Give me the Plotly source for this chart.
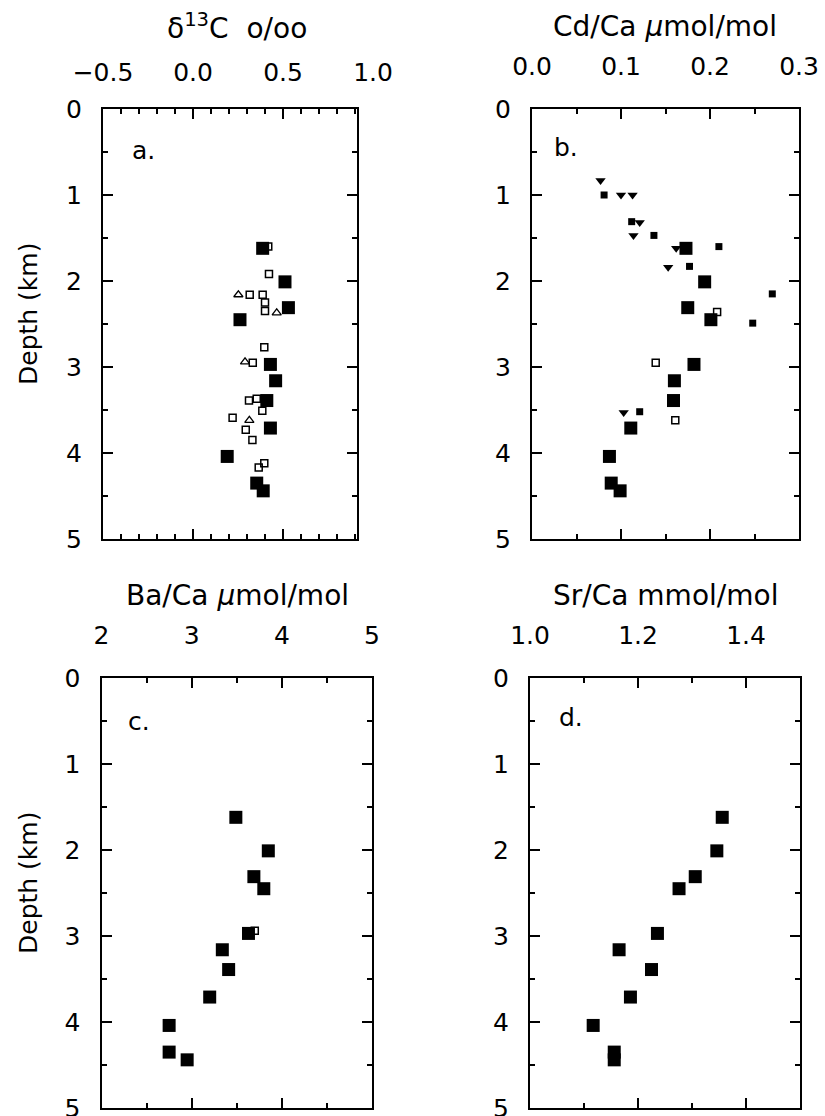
import plotly.graph_objects as go

# ---------------- data ----------------
depth_main = [1.62, 2.01, 2.31, 2.45, 2.97, 3.16, 3.39, 3.71, 4.04, 4.35, 4.44]

# panel a: delta13C
d13c_main = [0.387, 0.511, 0.530, 0.261, 0.430, 0.459, 0.410, 0.430, 0.190, 0.354, 0.390]
d13c_sq_depth = [1.60, 1.92, 2.16, 2.16, 2.25, 2.35, 2.77, 2.95, 3.37, 3.39, 3.51, 3.59, 3.73, 3.85, 4.12, 4.17]
d13c_sq = [0.418, 0.422, 0.315, 0.387, 0.400, 0.400, 0.396, 0.332, 0.354, 0.311, 0.385, 0.220, 0.293, 0.330, 0.396, 0.365]
d13c_tri_depth = [2.16, 2.37, 2.94, 3.62]
d13c_tri = [0.252, 0.465, 0.289, 0.313]

# panel b: Cd/Ca
cdca_main = [0.173, 0.194, 0.175, 0.201, 0.182, 0.160, 0.159, 0.111, 0.087, 0.089, 0.099]
cdca_dn_depth = [0.83, 1.00, 1.00, 1.32, 1.47, 1.62, 1.84, 3.53]
cdca_dn = [0.077, 0.100, 0.113, 0.121, 0.114, 0.162, 0.153, 0.103]
cdca_sm_depth = [1.00, 1.31, 1.47, 1.60, 1.83, 2.15, 2.49, 3.52]
cdca_sm = [0.081, 0.112, 0.137, 0.210, 0.177, 0.270, 0.248, 0.121]
cdca_op_depth = [2.36, 2.95, 3.62]
cdca_op = [0.208, 0.139, 0.161]

# panel c: Ba/Ca
baca_main = [3.49, 3.85, 3.69, 3.80, 3.63, 3.34, 3.41, 3.20, 2.75, 2.75, 2.95]
baca_op_depth = [2.94]
baca_op = [3.70]

# panel d: Sr/Ca
srca_main = [1.356, 1.346, 1.306, 1.276, 1.236, 1.165, 1.225, 1.186, 1.117, 1.156, 1.156]

titles = ["δ<sup>13</sup>C\u00a0\u00a0o/oo", "Cd/Ca\u00a0<i>μ</i>mol/mol",
          "Ba/Ca\u00a0<i>μ</i>mol/mol", "Sr/Ca\u00a0mmol/mol"]
panel_tags = ["a.", "b.", "c.", "d."]
x_ranges = [[-0.5, 0.911], [0.0, 0.3], [2.0, 5.0], [1.0, 1.5]]
x_label_range_a = [-0.5, 1.0]
x_major = [0.5, 0.1, 1.0, 0.2]
x_minor = [0.1, 0.05, 0.5, 0.1]
x_fmt = [".1f", ".1f", ".0f", ".1f"]
y_range = [5, 0]

# ---------------- layout geometry (pixels) ----------------
W, H = 825, 1116
FONT = "DejaVu Sans"
frames = [  # left, right, top, bottom
    (103, 357, 109, 539),
    (532, 799, 109, 539),
    (101.5, 372, 678, 1108),
    (530, 800, 678, 1108),
]


def xd(l, r):
    return [l / W, r / W]


def yd(t, b):
    return [1 - b / H, 1 - t / H]


fig = go.Figure()

big = dict(symbol="square", size=13, color="black")
small_filled = dict(symbol="square", size=7, color="black")
small_open = dict(symbol="square-open", size=7, color="black", line=dict(width=1.5, color="black"))
tri_open = dict(symbol="triangle-up-open", size=8, color="black", line=dict(width=1.3, color="black"))
tri_down = dict(symbol="triangle-down", size=9, color="black")


def add(x, y, marker, k):
    xa = "x" if k == 1 else f"x{k}"
    ya = "y" if k == 1 else f"y{k}"
    fig.add_trace(go.Scatter(x=x, y=y, mode="markers", marker=marker, xaxis=xa, yaxis=ya,
                             showlegend=False, cliponaxis=False))


# label-only axis for panel a (tick labels extend past the frame) - drawn first
fig.add_trace(go.Scatter(x=[], y=[], xaxis="x5", yaxis="y", showlegend=False))
# panel a
add(d13c_sq, d13c_sq_depth, small_open, 1)
add(d13c_tri, d13c_tri_depth, tri_open, 1)
add(d13c_main, depth_main, big, 1)
# panel b
add(cdca_dn, cdca_dn_depth, tri_down, 2)
add(cdca_sm, cdca_sm_depth, small_filled, 2)
add(cdca_op, cdca_op_depth, small_open, 2)
add(cdca_main, depth_main, big, 2)
# panel c
add(baca_op, baca_op_depth, small_open, 3)
add(baca_main, depth_main, big, 3)
# panel d
add(srca_main, depth_main, big, 4)

STANDOFF = 22
layout = dict(
    width=W, height=H, margin=dict(l=0, r=0, t=0, b=0, pad=0, autoexpand=False),
    paper_bgcolor="white", plot_bgcolor="rgba(0,0,0,0)",
    font=dict(family=FONT, size=25, color="black"),
    showlegend=False,
)

for i, (l, r, t, b) in enumerate(frames):
    k = i + 1
    xkey = "xaxis" if k == 1 else f"xaxis{k}"
    ykey = "yaxis" if k == 1 else f"yaxis{k}"
    layout[xkey] = dict(
        domain=xd(l, r), anchor="y" if k == 1 else f"y{k}", side="top",
        range=x_ranges[i], tickmode="linear", tick0=x_ranges[i][0], dtick=x_major[i],
        tickformat=x_fmt[i], ticks="inside", ticklen=10, tickwidth=1.5, tickcolor="black",
        showline=True, linewidth=2, linecolor="black", mirror="ticks",
        minor=dict(dtick=x_minor[i], tick0=x_ranges[i][0], ticks="inside", ticklen=5,
                   tickwidth=1.5, tickcolor="black"),
        showgrid=False, zeroline=False, fixedrange=True, automargin=False,
        showticklabels=(k != 1), ticklabelstandoff=STANDOFF, ticklabeloverflow="allow",
        tickfont=dict(family=FONT, size=25, color="black"),
    )
    layout[ykey] = dict(
        domain=yd(t, b), anchor="x" if k == 1 else f"x{k}",
        range=y_range, tickmode="linear", tick0=0, dtick=1,
        ticks="inside", ticklen=10, tickwidth=1.5, tickcolor="black",
        showline=True, linewidth=2, linecolor="black", mirror="ticks",
        minor=dict(dtick=0.5, tick0=0, ticks="inside", ticklen=5, tickwidth=1.5, tickcolor="black"),
        showgrid=False, zeroline=False, fixedrange=True, automargin=False, ticklabelstandoff=14,
        ticklabeloverflow="allow",
        tickfont=dict(family=FONT, size=25, color="black"),
    )

# label-only axis for panel a: -0.5 .. 1.0
pxu = (frames[0][1] - frames[0][0]) / (x_ranges[0][1] - x_ranges[0][0])
right_lab = frames[0][0] + (x_label_range_a[1] - x_label_range_a[0]) * pxu
layout["xaxis5"] = dict(
    domain=xd(frames[0][0], right_lab), anchor="y", side="top",
    range=x_label_range_a, tickmode="linear", tick0=-0.5, dtick=0.5, tickformat=".1f",
    ticks="inside", ticklen=10, tickcolor="rgba(0,0,0,0)", showline=False,
    showgrid=False, zeroline=False, fixedrange=True, automargin=False, ticklabelstandoff=STANDOFF,
    ticklabeloverflow="allow",
    tickfont=dict(family=FONT, size=25, color="black"),
)
fig.update_layout(**layout)

# titles
title_x = [237, 665, 237, 665]
for i, (l, r, t, b) in enumerate(frames):
    fig.add_annotation(text=titles[i], x=title_x[i] / W, y=1 - (t - 83) / H, xref="paper", yref="paper",
                       showarrow=False, xanchor="center", yanchor="middle",
                       font=dict(family=FONT, size=28, color="black"))

# panel tags
tag_pos = [(143, 150), (566, 147), (139, 721), (571, 717)]
for i, (px, py) in enumerate(tag_pos):
    fig.add_annotation(text=panel_tags[i], x=px / W, y=1 - py / H, xref="paper", yref="paper",
                       showarrow=False, xanchor="center", yanchor="middle",
                       font=dict(family=FONT, size=25, color="black"))

# y titles
for yc in [314, 883]:
    fig.add_annotation(text="Depth (km)", x=28 / W, y=1 - yc / H, xref="paper", yref="paper",
                       showarrow=False, textangle=-90, xanchor="center", yanchor="middle",
                       font=dict(family=FONT, size=25, color="black"))

fig.write_html("out.html")
